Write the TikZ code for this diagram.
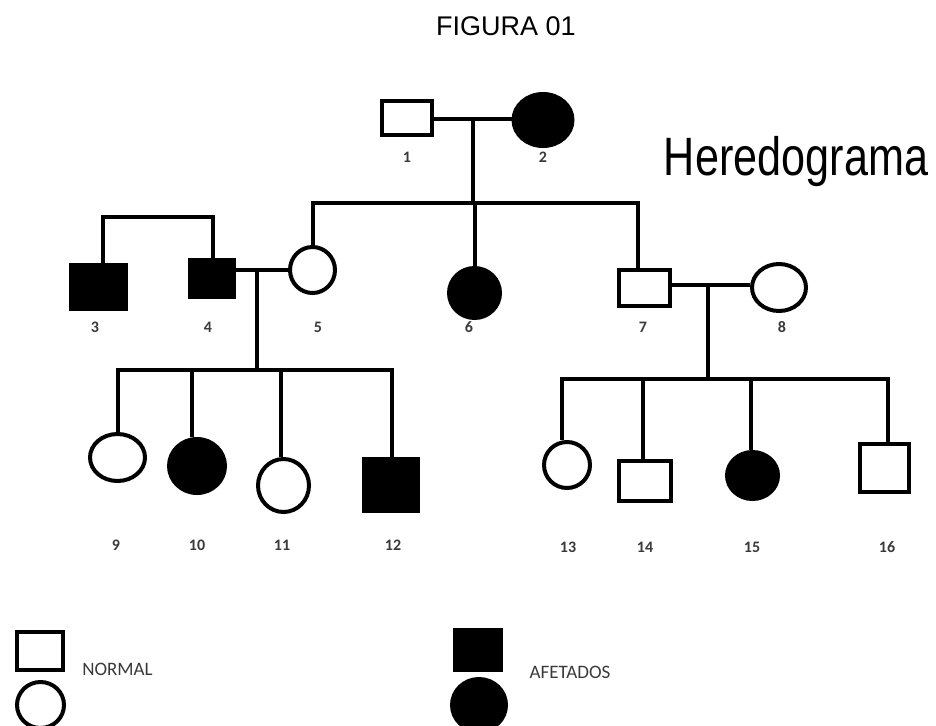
\documentclass[tikz,border=0pt]{standalone}
\usepackage{fontspec}
\usetikzlibrary{shapes.geometric}
\newfontfamily\carl{Carlito}
\newfontfamily\arsans{Liberation Sans}
\definecolor{numgray}{HTML}{3A3A3A}
\begin{document}
\begin{tikzpicture}[x=1pt,y=-1pt,
  sym/.style={line width=4pt, inner sep=0pt, outer sep=2pt, draw=black},
  sz/.style 2 args={minimum width=#1pt, minimum height=#2pt},
  nm/.style={sym, rectangle, fill=white},
  am/.style={sym, rectangle, fill=black},
  nf/.style={sym, ellipse, fill=white},
  af/.style={sym, ellipse, fill=black},
  lnk/.style={line width=4pt, line join=miter},
  num/.style={font=\carl\bfseries\fontsize{16}{19}\selectfont, text=numgray, anchor=base, inner sep=0pt},
  leg/.style={font=\carl\fontsize{19}{22}\selectfont, text=numgray, anchor=base, inner sep=0pt}]
\path[use as bounding box, clip] (0,0) rectangle (936,725);
\fill[white] (0,0) rectangle (936,725);

% titles
\node[font=\arsans\fontsize{27}{30}\selectfont, anchor=base, inner sep=0pt] (title) at (506,36) {FIGURA 01};
\node[font=\arsans\fontsize{54}{58}\selectfont, anchor=base, inner sep=0pt] (hered) at (796,175) {\scalebox{0.8}[1]{Heredograma}};

% generation I
\node[nm, sz={50}{34}] (n1) at (407,118) {};
\node[af, sz={59}{52}] (n2) at (543,120) {};
% generation II
\node[am, sz={55}{44}] (n3) at (98.5,287) {};
\node[am, sz={44}{37}] (n4) at (212,278.5) {};
\node[nf, sz={45}{46}] (n5) at (312.5,270) {};
\node[af, sz={51}{50}] (n6) at (474.5,293) {};
\node[nm, sz={51}{36}] (n7) at (644.5,288) {};
\node[nf, sz={54}{47}] (n8) at (779,287.5) {};
% generation III
\node[nf, sz={55}{47}] (n9) at (117.5,457.5) {};
\node[af, sz={56}{54}] (n10) at (197,466) {};
\node[nf, sz={51}{53}] (n11) at (283.5,485.5) {};
\node[am, sz={54}{52}] (n12) at (391,485) {};
\node[nf, sz={46}{46}] (n13) at (567,465) {};
\node[nm, sz={52}{40}] (n14) at (645,481) {};
\node[af, sz={51}{47}] (n15) at (752.5,475.5) {};
\node[nm, sz={49}{48}] (n16) at (884.5,468) {};

% number labels
\node[num] (t1) at (407,162) {1};
\node[num] (t2) at (543,162) {2};
\node[num] (t3) at (95,332) {3};
\node[num] (t4) at (208,332) {4};
\node[num] (t5) at (318,332) {5};
\node[num] (t6) at (469,332) {6};
\node[num] (t7) at (643,332) {7};
\node[num] (t8) at (782,332) {8};
\node[num] (t9) at (116,550) {9};
\node[num] (t10) at (197,550) {10};
\node[num] (t11) at (282,550) {11};
\node[num] (t12) at (393,550) {12};
\node[num] (t13) at (568,552) {13};
\node[num] (t14) at (645,552) {14};
\node[num] (t15) at (752,552) {15};
\node[num] (t16) at (887,552) {16};

% connectors: generation I -> II
\coordinate (m12) at (473,119);
\coordinate (b1) at (473,203);
\draw[lnk] (n1.east |- m12) -- (n2.west |- m12);
\draw[lnk] (m12) -- (b1);
\draw[lnk] ([xshift=0.5pt]n5.north) |- (b1) -| ([xshift=-6.5pt]n7.north);
\draw[lnk] (n6.north) -- (n6.north |- b1);

% bracket 3-4
\coordinate (b34) at (150,217);
\draw[lnk] ([xshift=4.5pt]n3.north) |- (b34) -| ([xshift=1pt]n4.north);

% couple 4-5
\coordinate (m45) at (257,270);
\coordinate (b2) at (257,370);
\draw[lnk] (n4.east |- m45) -- (n5.west |- m45);
\draw[lnk] (m45) -- (b2);
\draw[lnk] ([xshift=0.5pt]n9.north) |- (b2) -| ([xshift=1pt]n12.north);
\draw[lnk] ([xshift=-5pt]n10.north) -- ([xshift=-5pt]n10.north |- b2);
\draw[lnk] ([xshift=-2.5pt]n11.north) -- ([xshift=-2.5pt]n11.north |- b2);

% couple 7-8
\coordinate (m78) at (708,285);
\coordinate (b3) at (708,379);
\draw[lnk] (n7.east |- m78) -- (n8.west |- m78);
\draw[lnk] (m78) -- (b3);
\draw[lnk] ([xshift=-5pt]n13.north) |- (b3) -| ([xshift=3.5pt]n16.north);
\draw[lnk] ([xshift=-2pt]n14.north) -- ([xshift=-2pt]n14.north |- b3);
\draw[lnk] ([xshift=-1.5pt]n15.north) -- ([xshift=-1.5pt]n15.north |- b3);

% legend
\node[nm, sz={46}{38}] (l1) at (40,651) {};
\node[nf, sz={47}{46}] (l2) at (40.5,705) {};
\node[am, sz={46}{40}] (l3) at (478,650) {};
\node[af, sz={54}{52}] (l4) at (479,705) {};
\node[leg] (tn) at (117.5,675) {NORMAL};
\node[leg] (ta) at (570,678) {AFETADOS};
\end{tikzpicture}
\end{document}
